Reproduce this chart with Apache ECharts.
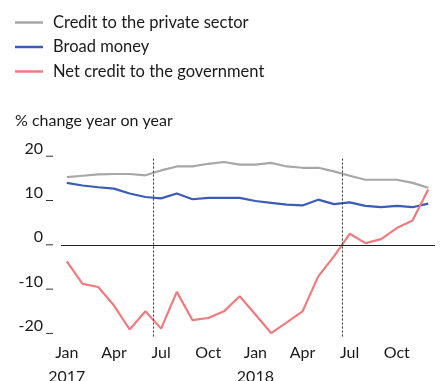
<!DOCTYPE html>
<html>
<head>
<meta charset="utf-8">
<script src="https://cdn.jsdelivr.net/npm/echarts@6/dist/echarts.min.js"></script>
<style>
  html, body { margin: 0; padding: 0; background: #fff; }
  #chart { width: 441px; height: 381px; }
</style>
</head>
<body>
<div id="chart"></div>
<script>
// Monthly observations, Jan 2017 – Dec 2018
const months = [
  'Jan 2017','Feb 2017','Mar 2017','Apr 2017','May 2017','Jun 2017',
  'Jul 2017','Aug 2017','Sep 2017','Oct 2017','Nov 2017','Dec 2017',
  'Jan 2018','Feb 2018','Mar 2018','Apr 2018','May 2018','Jun 2018',
  'Jul 2018','Aug 2018','Sep 2018','Oct 2018','Nov 2018','Dec 2018'
];
const privateCredit = [15.4, 15.7, 16.0, 16.1, 16.1, 15.8, 16.9, 17.8, 17.8, 18.4, 18.8, 18.2,
                       18.2, 18.6, 17.8, 17.5, 17.5, 16.7, 15.7, 14.8, 14.8, 14.8, 14.1, 13.0];
const broadMoney    = [14.1, 13.5, 13.1, 12.8, 11.7, 10.9, 10.6, 11.7, 10.4, 10.7, 10.7, 10.7,
                       10.0, 9.6, 9.2, 9.0, 10.3, 9.3, 9.7, 8.9, 8.6, 8.9, 8.6, 9.4];
const govCredit     = [-3.6, -8.7, -9.4, -13.6, -19.0, -14.9, -18.8, -10.5, -16.9, -16.4, -14.9, -11.5,
                       -15.6, -19.8, -17.4, -14.9, -7.0, -2.5, 2.6, 0.5, 1.4, 3.9, 5.6, 12.6];

// Quarterly tick labels (month index -> label)
const xTickIndex  = [0, 3, 6, 9, 12, 15, 18, 21];
const xTickLabels = ['Jan\n2017', 'Apr', 'Jul', 'Oct', 'Jan\n2018', 'Apr', 'Jul', 'Oct'];
const yTicks = [-20, -10, 0, 10, 20];
// Mid-year dividers, between June and July
const dividers = [5.5, 17.5];

const FONT = 'Lato';
const INK = '#1a1a1a';

const toPairs = arr => arr.map((v, i) => [i, v]);

const chart = echarts.init(document.getElementById('chart'), null, { renderer: 'canvas' });

chart.setOption({
  animation: false,
  backgroundColor: '#ffffff',
  textStyle: { fontFamily: FONT, color: INK },
  title: {
    text: '% change year on year',
    left: 15,
    top: 113,
    padding: 0,
    textStyle: { fontFamily: FONT, fontSize: 16, fontWeight: 'normal', color: INK }
  },
  legend: {
    orient: 'vertical',
    left: 15,
    top: 12.5,
    padding: 0,
    icon: 'rect',
    itemWidth: 28,
    itemHeight: 2.5,
    itemGap: 4.5,
    selectedMode: false,
    textStyle: { fontFamily: FONT, fontSize: 16.5, color: INK, lineHeight: 20, padding: [0, 0, 0, 5] },
    data: ['Credit to the private sector', 'Broad money', 'Net credit to the government']
  },
  grid: {
    left: 61, right: 6, top: 156.7, bottom: 44.4,
    containLabel: false,
    outerBoundsMode: 'none'
  },
  xAxis: {
    type: 'value',
    min: -0.37,
    max: 23.43,
    axisLine: { show: false },
    axisTick: { show: false },
    splitLine: { show: false },
    axisLabel: {
      customValues: xTickIndex,
      formatter: v => xTickLabels[xTickIndex.indexOf(Math.round(v))] || '',
      fontFamily: FONT,
      fontSize: 16,
      color: INK,
      lineHeight: 24,
      margin: 4
    }
  },
  yAxis: {
    type: 'value',
    min: -20.6,
    max: 20,
    axisLine: { show: false },
    splitLine: { show: false },
    axisTick: { show: false },
    axisLabel: {
      customValues: yTicks,
      // value followed by a short tick stub sitting on the value line
      formatter: v => `{n|${v}}{s|}{t|}`,
      margin: 8,
      verticalAlign: 'bottom',
      rich: {
        n: { fontFamily: FONT, fontSize: 16, color: INK, lineHeight: 9, verticalAlign: 'bottom' },
        s: { width: 3, height: 1, verticalAlign: 'bottom' },
        t: { width: 7, height: 1, backgroundColor: '#333', verticalAlign: 'bottom' }
      }
    }
  },
  series: [
    {
      name: 'Credit to the private sector',
      type: 'line',
      data: toPairs(privateCredit),
      showSymbol: false,
      lineStyle: { width: 2.2, color: '#a7a7a7' },
      itemStyle: { color: '#a7a7a7' },
      z: 2,
      markLine: {
        silent: true,
        symbol: 'none',
        label: { show: false },
        data: [
          { yAxis: 0, lineStyle: { type: 'solid', color: '#222', width: 1 } },
          ...dividers.map(d => ({ xAxis: d, lineStyle: { type: [2, 2], color: '#333', width: 1 } }))
        ]
      }
    },
    {
      name: 'Broad money',
      type: 'line',
      data: toPairs(broadMoney),
      showSymbol: false,
      lineStyle: { width: 2.2, color: '#3b5cb5' },
      itemStyle: { color: '#3b5cb5' },
      z: 3
    },
    {
      name: 'Net credit to the government',
      type: 'line',
      data: toPairs(govCredit),
      showSymbol: false,
      lineStyle: { width: 2.2, color: '#f07b7e' },
      itemStyle: { color: '#f07b7e' },
      z: 4
    }
  ]
});
</script>
</body>
</html>
